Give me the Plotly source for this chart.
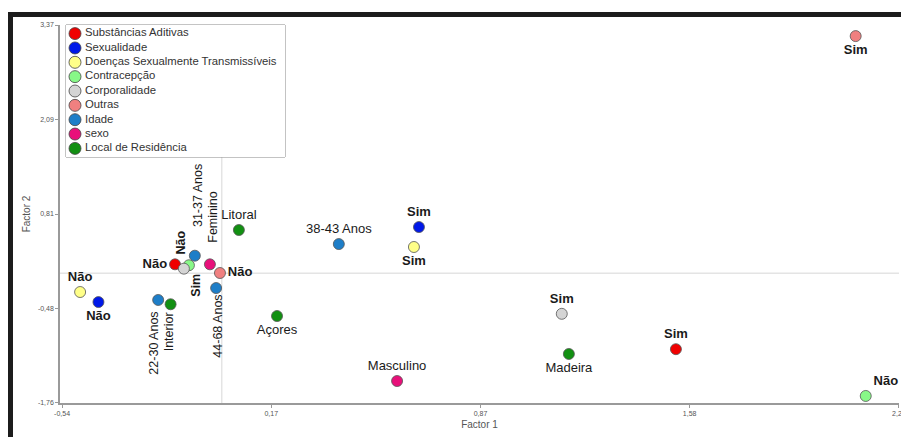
import plotly.graph_objects as go

# ---------------- data ----------------
categories = ["Substâncias Aditivas", "Sexualidade", "Doenças Sexualmente Transmissíveis",
              "Contracepção", "Corporalidade", "Outras", "Idade", "sexo", "Local de Residência"]
colors = ["#f00000", "#0018e8", "#ffff88", "#88f888", "#d4d4d4", "#f08080",
          "#1e7ec8", "#e8107a", "#129012"]

point_cat = ["Substâncias Aditivas", "Substâncias Aditivas",
             "Sexualidade", "Sexualidade",
             "Doenças Sexualmente Transmissíveis", "Doenças Sexualmente Transmissíveis",
             "Contracepção", "Contracepção",
             "Corporalidade", "Corporalidade",
             "Outras", "Outras",
             "Idade", "Idade", "Idade", "Idade",
             "sexo", "sexo",
             "Local de Residência", "Local de Residência", "Local de Residência", "Local de Residência"]
point_label = ["Sim", "Não", "Sim", "Não", "Sim", "Não", "Sim", "Não", "Sim", "Não", "Sim", "Não",
               "22-30 Anos", "31-37 Anos", "38-43 Anos", "44-68 Anos",
               "Feminino", "Masculino",
               "Litoral", "Interior", "Açores", "Madeira"]
factor1 = [1.536, -0.158, 0.667, -0.417, 0.650, -0.479, -0.111, 2.178, 1.150, -0.128, 2.144, -0.006,
           -0.215, -0.091, 0.396, -0.019, -0.040, 0.593, 0.058, -0.173, 0.187, 1.174]
factor2 = [-1.030, 0.122, 0.628, -0.390, 0.357, -0.254, 0.109, -1.665, -0.550, 0.063, 3.220, 0.004,
           -0.362, 0.239, 0.397, -0.200, 0.122, -1.462, 0.588, -0.420, -0.580, -1.095]

x_ticks = [-0.54, 0.1675, 0.875, 1.5825, 2.29]
x_tick_text = ["-0,54", "0,17", "0,87", "1,58", "2,29"]
y_ticks = [-1.76, -0.4775, 0.805, 2.0875, 3.37]
y_tick_text = ["-1,76", "-0,48", "0,81", "2,09", "3,37"]

# ---------------- label placement (style) ----------------
# (mode, xshift, yshift); mode: plotly textposition or "up"/"down" for rotated labels
label_place = [("top center", 0, 0), ("middle left", 0, 0),
               ("top center", 0, 0), ("bottom center", 0, 0),
               ("bottom center", 0, 0), ("top center", 0, 0),
               ("down", 7, -6), ("top right", 0, 0),
               ("top center", 0, 0), ("up", -3, 12),
               ("bottom center", 0, 0), ("middle right", 0, 0),
               ("down", -4, -10), ("up", 3, 27), ("top center", 0, 0), ("down", 1, -5),
               ("up", 3, 20), ("top center", 0, 0),
               ("top center", 0, 0), ("down", -2, -6), ("bottom center", 0, 0), ("bottom center", 0, 0)]
bold_labels = {"Sim", "Não"}

FONT = "Arial, Liberation Sans, sans-serif"
fig = go.Figure()

annotations = []
for cat, col in zip(categories, colors):
    idx = [i for i, c in enumerate(point_cat) if c == cat]
    texts, poss = [], []
    for i in idx:
        lab = point_label[i]
        mode, xs, ys = label_place[i]
        shown = f"<b>{lab}</b>" if lab in bold_labels else lab
        if mode in ("up", "down"):
            texts.append("")
            poss.append("top center")
            annotations.append(dict(
                x=factor1[i], y=factor2[i], xref="x", yref="y", text=shown, showarrow=False,
                textangle=-90, xanchor="center", yanchor="bottom" if mode == "up" else "top",
                xshift=xs, yshift=ys, font=dict(family=FONT, size=12.5, color="#1a1a1a")))
        else:
            texts.append(shown)
            poss.append(mode)
    fig.add_trace(go.Scatter(
        x=[factor1[i] for i in idx], y=[factor2[i] for i in idx],
        mode="markers+text", text=texts, textposition=poss, name=cat, showlegend=False,
        marker=dict(size=11, color=col, line=dict(color="#555555", width=0.8)),
        textfont=dict(family=FONT, size=13, color="#1a1a1a"), cliponaxis=False,
        xaxis="x", yaxis="y"))

# custom legend drawn in an inset subplot (x2 units = pixels)
legend_y = list(range(len(categories)))
fig.add_trace(go.Scatter(
    x=[0] * len(categories), y=legend_y, mode="markers", showlegend=False, cliponaxis=False,
    marker=dict(size=12, color=colors, line=dict(color="#444444", width=0.8)),
    xaxis="x2", yaxis="y2", hoverinfo="skip"))
fig.add_trace(go.Scatter(
    x=[10] * len(categories), y=legend_y, mode="text", text=categories, textposition="middle right",
    showlegend=False, cliponaxis=False,
    textfont=dict(family=FONT, size=11.3, color="#333333"), xaxis="x2", yaxis="y2"))

W, H = 901, 437
ML, MR, MT, MB = 60, 2, 25, 34
pw, ph = W - ML - MR, H - MT - MB

def px_x(p):
    return (p - ML) / pw

def px_y(p):
    return (H - MB - p) / ph

shapes = [
    # zero reference lines
    dict(type="line", xref="x", yref="paper", x0=0, x1=0, y0=0, y1=1, layer="below",
         line=dict(color="#e4e4e4", width=1.5)),
    dict(type="line", xref="paper", yref="y", x0=0, x1=1, y0=0, y1=0, layer="below",
         line=dict(color="#e4e4e4", width=1.5)),
    # legend box
    dict(type="rect", xref="x2 domain", yref="y2 domain", x0=0, x1=1, y0=0, y1=1, layer="below",
         fillcolor="white", line=dict(color="#888888", width=1)),
    # dark frame
    dict(type="rect", xref="paper", yref="paper", x0=px_x(10), x1=px_x(905), y0=px_y(17), y1=px_y(12),
         fillcolor="#1c1c1c", line=dict(width=0), layer="above"),
    dict(type="rect", xref="paper", yref="paper", x0=px_x(8), x1=px_x(13), y0=px_y(440), y1=px_y(12),
         fillcolor="#1c1c1c", line=dict(width=0), layer="above"),
]

axis_common = dict(showgrid=False, zeroline=False, showline=True, linecolor="#9a9a9a", linewidth=1.5,
                   ticks="outside", ticklen=3, tickcolor="#9a9a9a", ticklabeloverflow="allow",
                   automargin=False, tickfont=dict(family=FONT, size=7, color="#555555"))

fig.update_layout(
    width=W, height=H, margin=dict(l=ML, r=MR, t=MT, b=MB, autoexpand=False),
    paper_bgcolor="white", plot_bgcolor="white", showlegend=False,
    xaxis=dict(range=[-0.547, 2.2905], tickvals=x_ticks, ticktext=x_tick_text,
               title=dict(text="Factor 1", font=dict(family=FONT, size=10, color="#555555"), standoff=5),
               **axis_common),
    yaxis=dict(range=[-1.7605, 3.3705], tickvals=y_ticks, ticktext=y_tick_text,
               title=dict(text="Factor 2", font=dict(family=FONT, size=10, color="#555555"), standoff=5),
               **axis_common),
    xaxis2=dict(domain=[px_x(66), px_x(285)], range=[-9, 210], visible=False, anchor="y2"),
    yaxis2=dict(domain=[px_y(157), 1.0], range=[8.6, -0.6], visible=False, anchor="x2"),
    shapes=shapes, annotations=annotations,
)

fig.write_html("out.html")
